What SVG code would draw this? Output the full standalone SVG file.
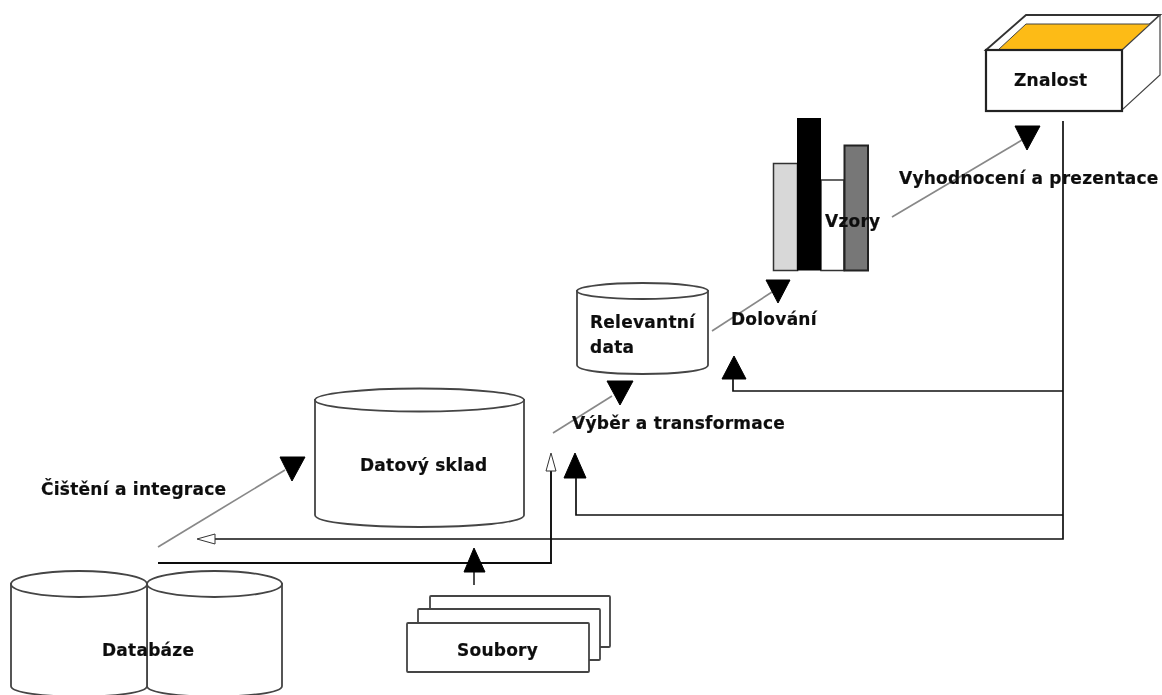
<svg xmlns="http://www.w3.org/2000/svg" width="1162" height="695" viewBox="0 0 1162 695">
<defs><filter id="b" x="-5%" y="-5%" width="110%" height="110%"><feGaussianBlur stdDeviation="0.35"/></filter></defs>
<style>
g{filter:url(#b)}
text{font-family:"DejaVu Sans","Liberation Sans",sans-serif;font-weight:bold;font-size:17px;letter-spacing:.25px;fill:#111;stroke:#111;stroke-width:.2}
.s{fill:#fff;stroke:#444;stroke-width:1.8}
.k{fill:#fff;stroke:#222;stroke-width:2.2}
.d{fill:none;stroke:#888;stroke-width:1.7}
.c{fill:none;stroke:#111;stroke-width:1.7}
.h{fill:#000;stroke:#000;stroke-width:1}
</style>
<rect width="1162" height="695" fill="#fff"/>
<g id="databaze">
<path class="s" d="M147 584V686C147 700 282 700 282 686V584Z"/>
<ellipse class="s" cx="214.500" cy="584" rx="67.500" ry="13"/>
<path class="s" d="M11 584V686C11 700 147 700 147 686V584Z"/>
<ellipse class="s" cx="79" cy="584" rx="68" ry="13"/>
<text x="102" y="656">Databáze</text>
</g>
<g id="datovy-sklad">
<path class="s" d="M315 400V515C315 531 524 531 524 515V400Z"/>
<ellipse class="s" cx="419.500" cy="400" rx="104.500" ry="11.500"/>
<text x="360" y="471">Datový sklad</text>
</g>
<g id="soubory">
<rect class="s" x="430" y="596" width="180" height="51" rx="1"/>
<rect class="s" x="418" y="609" width="182" height="51" rx="1"/>
<rect class="s" x="407" y="623" width="182" height="49" rx="1"/>
<text x="457" y="656">Soubory</text>
</g>
<g id="relevantni-data">
<path class="s" d="M577 291V365C577 377 708 377 708 365V291Z"/>
<ellipse class="s" cx="642.500" cy="291" rx="65.500" ry="8"/>
<text x="590" y="328">Relevantní</text>
<text x="590" y="353">data</text>
</g>
<g id="vzory">
<rect x="773.500" y="163.500" width="24" height="107" fill="#d8d8d8" stroke="#333" stroke-width="1.500"/>
<rect x="821" y="180" width="23" height="90.500" fill="#fff" stroke="#333" stroke-width="1.500"/>
<rect x="844.500" y="145.500" width="23.500" height="125" fill="#777" stroke="#222" stroke-width="2"/>
<rect x="797" y="118" width="24" height="152.500" fill="#000"/>
<text x="825" y="227">Vzory</text>
</g>
<g id="znalost">
<path d="M986 50L1026 15H1160L1122 50Z" fill="#fff" stroke="#333" stroke-width="1.800"/>
<path d="M998 50L1026 24H1152L1122 50Z" fill="#fdbb14" stroke="#444" stroke-width="1"/>
<path d="M1122 50L1160 15V75L1122 110Z" fill="#fff" stroke="#444" stroke-width="1.200"/>
<rect class="k" x="986" y="50" width="136" height="61"/>
<text x="1014" y="86">Znalost</text>
</g>
<g id="connectors">
<path class="d" d="M158 547L285 470"/>
<path class="d" d="M553 433L612 396"/>
<path class="d" d="M712 331L772 292"/>
<path class="d" d="M892 217L1022 140"/>
<path class="c" d="M1063 121V539H205"/>
<path class="c" d="M1063 391H733V379"/>
<path class="c" d="M1063 515H576V478"/>
<path d="M158 563H551V470" fill="none" stroke="#111" stroke-width="1.900"/>
<path d="M474 585V572" fill="none" stroke="#444" stroke-width="1.900"/>
<path class="h" d="M280 457H305L292 481Z"/>
<path class="h" d="M607 381H633L620 405Z"/>
<path class="h" d="M766 280H790L778 303Z"/>
<path class="h" d="M1015 126H1040L1027 150Z"/>
<path class="h" d="M722 379H746L734 356Z"/>
<path class="h" d="M564 478H586L575 453Z"/>
<path class="h" d="M464 572H485L474 548Z"/>
<path d="M546 471H556L551 453Z" fill="#fff" stroke="#333" stroke-width="1"/>
<path d="M197 539L215 534V544Z" fill="#fff" stroke="#333" stroke-width="1"/>
</g>
<g id="labels">
<text x="41" y="495">Čištění a integrace</text>
<text x="572" y="429">Výběr a transformace</text>
<text x="731" y="325">Dolování</text>
<text x="899" y="184">Vyhodnocení a prezentace</text>
</g>
</svg>
